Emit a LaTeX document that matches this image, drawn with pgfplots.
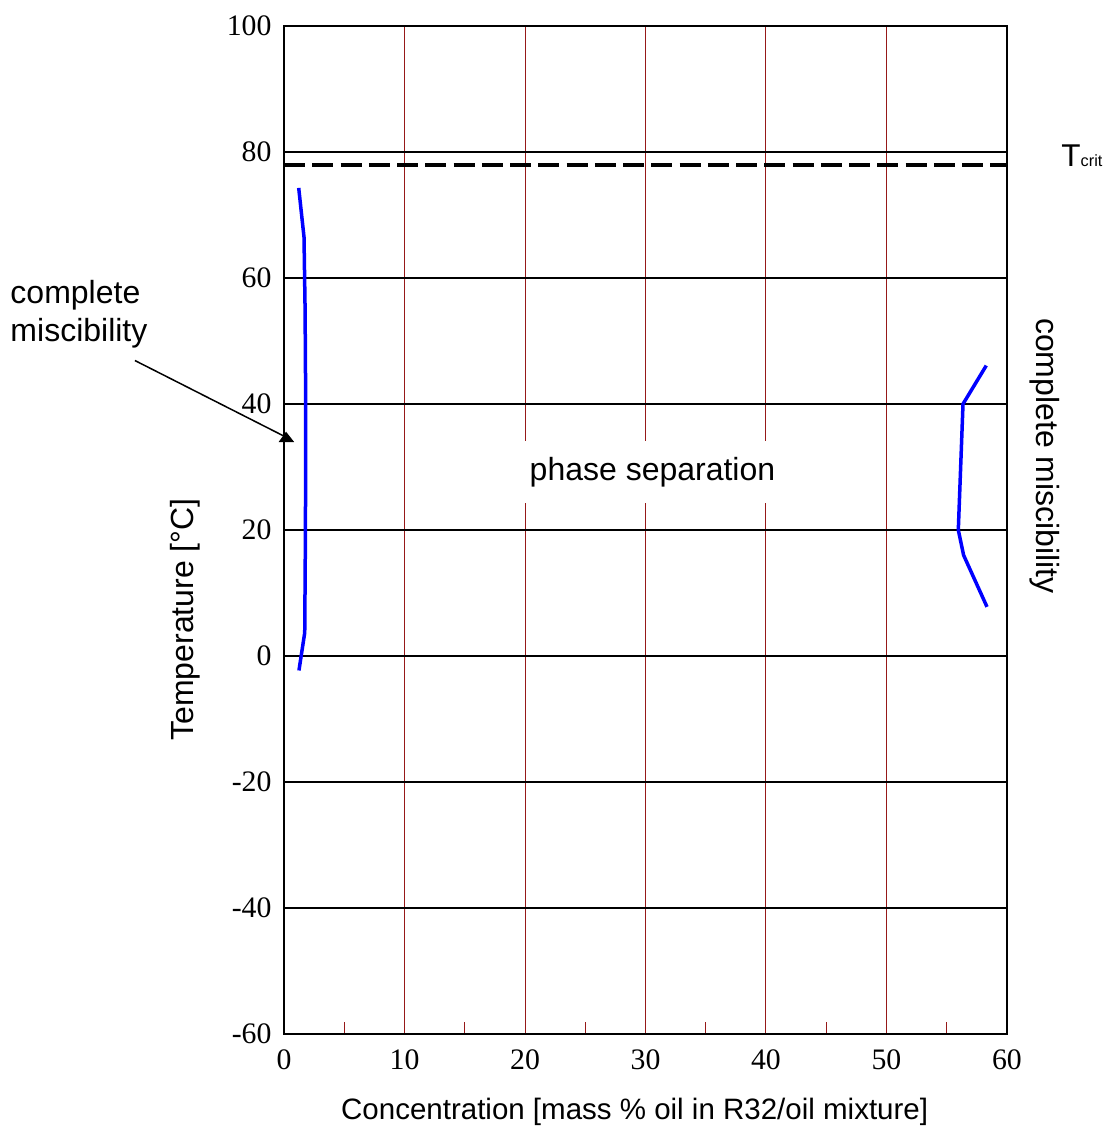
\documentclass[border=0pt]{standalone}
\usepackage{fontspec}
\setmainfont{Liberation Sans}
\newfontfamily\tnr{Liberation Serif}
\usepackage{pgfplots}
\pgfplotsset{compat=1.18}
\definecolor{gridred}{RGB}{150,25,25}
\definecolor{curveblue}{RGB}{0,0,255}
\begin{document}
\begin{tikzpicture}
\begin{axis}[
  scale only axis,
  width=289.2pt, height=403.2pt,
  xmin=0, xmax=60, ymin=-60, ymax=100,
  xtick={0,10,...,60},
  ytick={-60,-40,...,100},
  minor xtick={5,15,...,55},
  xtick pos=bottom, ytick pos=left,
  grid=major,
  x grid style={color=gridred, line width=0.4pt},
  y grid style={color=black, line width=0.6pt},
  tick align=inside,
  major tick length=0pt,
  minor tick length=4.8pt,
  x tick style={color=gridred, line width=0.4pt},
  y tick style={color=black},
  axis line style={line width=0.8pt},
  /pgf/number format/assume math mode=true,
  ticklabel style={font=\tnr\fontsize{11.9}{14}\selectfont},
  yticklabel style={xshift=-1.5pt},
  xticklabel style={yshift=-2.6pt},
  clip=false,
]
% bounding box of the whole picture
\path (axis cs:-23.57,-75.08) rectangle (axis cs:68.13,104.13);

% critical temperature
\addplot[black, line width=1.6pt, dash pattern=on 8.4pt off 2.9pt] coordinates {(0,78) (60,78)};

% left miscibility boundary
\addplot[curveblue, line width=1.4pt] coordinates {
(1.22,74.3) (1.66,66.5) (1.75,55) (1.80,40) (1.78,20) (1.72,3.7) (1.24,-2.3)};

% right miscibility boundary
\addplot[curveblue, line width=1.4pt] coordinates {
(58.28,46.1) (56.35,40) (55.96,20) (56.40,16.0) (58.34,7.8)};

% annotations
\node[fill=white, inner xsep=4pt, inner ysep=0pt, minimum height=24.6pt,
      font=\fontsize{12.8}{15}\selectfont] at (axis cs:30.58,29.2) {phase separation};

\node[anchor=base west, inner sep=0pt, font=\fontsize{12.8}{15}\selectfont]
  at (axis cs:-22.74,56.03) {complete};
\node[anchor=base west, inner sep=0pt, font=\fontsize{12.8}{15}\selectfont]
  at (axis cs:-22.74,49.9) {miscibility};
\draw[line width=0.6pt] (axis cs:-12.37,46.9) -- (axis cs:0,34.9);
\fill (axis cs:0.17,35.6) -- (axis cs:-0.45,33.95) -- (axis cs:0.85,33.95) -- cycle;

\node[rotate=-90, inner sep=0pt, font=\fontsize{12.8}{15}\selectfont]
  at (axis cs:63.15,31.75) {complete miscibility};

\node[anchor=base west, inner sep=0pt, font=\fontsize{12.6}{14}\selectfont]
  at (axis cs:64.48,77.62) {T{\fontsize{6.5}{7}\selectfont crit}};

\node[rotate=90, inner sep=0pt, font=\fontsize{12.8}{15}\selectfont]
  at (axis cs:-8.22,5.8) {Temperature [°C]};
\node[inner sep=0pt, font=\fontsize{11.8}{14}\selectfont]
  at (axis cs:29.1,-72.4) {Concentration [mass \% oil in R32/oil mixture]};
\end{axis}
\end{tikzpicture}
\end{document}
